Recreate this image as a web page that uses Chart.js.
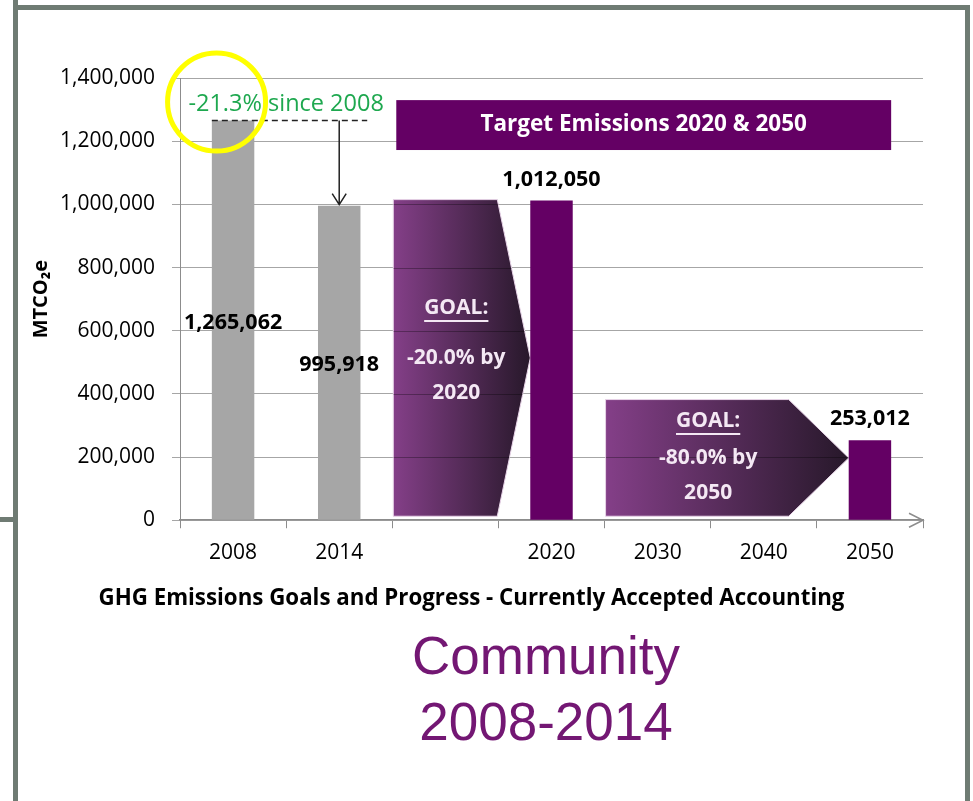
<!DOCTYPE html>
<html lang="en">
  <head>
    <meta charset="UTF-8" />
    <meta name="viewport" content="width=device-width, initial-scale=1.0" />
    <title>GHG Emissions Goals and Progress</title>
    <script src="https://cdn.jsdelivr.net/npm/chart.js"></script>
    <style>
      body { margin: 0; background: #fff; }
      .page { position: relative; width: 973px; height: 801px; overflow: hidden; }
      .frame { position: absolute; background: #6f7b73; }
      #chartBox { position: absolute; left: 0; top: 0; width: 973px; height: 620px; }
      .caption {
        position: absolute; left: 346px; top: 623px; width: 400px;
        text-align: center; font-family: "Liberation Sans", Arial, sans-serif;
        font-size: 53px; line-height: 66px; color: #731773;
      }
    </style>
  </head>
  <body>
    <div class="page">
      <div class="frame" style="left:13px;top:0;width:5px;height:801px"></div>
      <div class="frame" style="left:13px;top:5px;width:957px;height:5px"></div>
      <div class="frame" style="left:965px;top:5px;width:5px;height:796px"></div>
      <div class="frame" style="left:0;top:517px;width:15px;height:5px"></div>
      <div id="chartBox"><canvas id="myChart"></canvas></div>
      <div class="caption">Community<br />2008-2014</div>
    </div>

    <script>
      // emissions data (MTCO2e)
      const years = ["2008", "2014", "", "2020", "2030", "2040", "2050"];
      const emissions = [1265062, 995918, null, 1012050, null, null, 253012];
      const barColors = ["#a6a6a6", "#a6a6a6", null, "#640064", null, null, "#640064"];
      const yTicks = [0, 200000, 400000, 600000, 800000, 1000000, 1200000, 1400000];

      // goal arrows: start category, target bar, arrow top value
      const goalStart = [2, 4];
      const goalTarget = [3, 6];
      const goalTop = [1015000, 382000];

      const fmt = (v) => v.toLocaleString("en-US");
      const pct = (v) => ((v / emissions[0] - 1) * 100).toFixed(1) + "%";

      Chart.defaults.font.family = "'Open Sans', sans-serif";
      Chart.defaults.color = "#000";

      const annotations = {
        id: "annotations",
        beforeDatasetsDraw(chart) {
          const { ctx, scales: { x, y } } = chart;
          const step = x.getPixelForValue(1) - x.getPixelForValue(0);
          const barHalf = (step * 0.4) / 2;

          // target banner
          const bx1 = x.getPixelForValue(2) - step / 2 + 4;
          const bx2 = x.getPixelForValue(6) + barHalf;
          const by1 = y.getPixelForValue(1330000);
          const by2 = y.getPixelForValue(1172000);
          ctx.save();
          ctx.fillStyle = "#640064";
          ctx.fillRect(bx1, by1, bx2 - bx1, by2 - by1);
          ctx.fillStyle = "#fff";
          ctx.font = "bold 22.5px 'Open Sans'";
          ctx.textAlign = "center";
          ctx.textBaseline = "middle";
          ctx.fillText("Target Emissions 2020 & 2050", (bx1 + bx2) / 2, (by1 + by2) / 2);
          ctx.restore();

          // goal arrows
          const points = [33, 60];
          const gaps = [50, 37];
          goalStart.forEach((s, i) => {
            const t = goalTarget[i];
            const left = x.getPixelForValue(s) - step / 2 + 1;
            const tip = x.getPixelForValue(t) - barHalf;
            const body = tip - points[i];
            const top = y.getPixelForValue(goalTop[i]);
            const bottom = y.getPixelForValue(0) - 4;
            const mid = (top + bottom) / 2;

            ctx.save();
            ctx.beginPath();
            ctx.moveTo(left, top);
            ctx.lineTo(body, top);
            ctx.lineTo(tip, mid);
            ctx.lineTo(body, bottom);
            ctx.lineTo(left, bottom);
            ctx.closePath();
            const grad = ctx.createLinearGradient(left, 0, tip, 0);
            grad.addColorStop(0, "#843f88");
            grad.addColorStop(1, "#27182a");
            ctx.fillStyle = grad;
            ctx.fill();
            ctx.strokeStyle = "#e8d4e8";
            ctx.lineWidth = 1;
            ctx.stroke();
            ctx.clip();
            ctx.strokeStyle = "rgba(0,0,0,0.3)";
            yTicks.forEach((v) => {
              const py = Math.round(y.getPixelForValue(v)) + 0.5;
              ctx.beginPath();
              ctx.moveTo(left, py);
              ctx.lineTo(tip, py);
              ctx.stroke();
            });
            ctx.restore();

            // goal text
            const cx = (left + body) / 2 + 11;
            ctx.save();
            ctx.fillStyle = "#f4e8f4";
            ctx.strokeStyle = "#f4e8f4";
            ctx.font = "bold 21px 'Open Sans'";
            ctx.textAlign = "center";
            ctx.textBaseline = "middle";
            const gy = mid - gaps[i];
            ctx.fillText("GOAL:", cx, gy);
            const w = ctx.measureText("GOAL:").width;
            ctx.lineWidth = 2;
            ctx.beginPath();
            ctx.moveTo(cx - w / 2, gy + 13);
            ctx.lineTo(cx + w / 2, gy + 13);
            ctx.stroke();
            ctx.fillText(pct(emissions[t]) + " by", cx, mid);
            ctx.fillText(years[t], cx, mid + 35);
            ctx.restore();
          });
        },
        afterDatasetsDraw(chart) {
          const { ctx, chartArea: area, scales: { x, y } } = chart;
          const step = x.getPixelForValue(1) - x.getPixelForValue(0);
          const barHalf = (step * 0.4) / 2;

          // value labels
          ctx.save();
          ctx.font = "bold 21.5px 'Open Sans'";
          ctx.textAlign = "center";
          ctx.textBaseline = "middle";
          ctx.fillStyle = "#000";
          emissions.forEach((v, i) => {
            if (v == null) return;
            const px = x.getPixelForValue(i);
            const py = barColors[i] === "#a6a6a6" ? y.getPixelForValue(v / 2) + 2 : y.getPixelForValue(v) - 21;
            ctx.fillText(fmt(v), px, py);
          });
          ctx.restore();

          // change since 2008: dashed reference + arrow
          const y0 = y.getPixelForValue(emissions[0]);
          const y1 = y.getPixelForValue(emissions[1]);
          const x1 = x.getPixelForValue(1);
          ctx.save();
          ctx.strokeStyle = "#222";
          ctx.lineWidth = 1.5;
          ctx.setLineDash([6, 4]);
          ctx.beginPath();
          ctx.moveTo(x.getPixelForValue(0) - barHalf, y0);
          ctx.lineTo(x1 + 28, y0);
          ctx.stroke();
          ctx.setLineDash([]);
          ctx.beginPath();
          ctx.moveTo(x1, y0);
          ctx.lineTo(x1, y1 - 1);
          ctx.moveTo(x1 - 7, y1 - 12);
          ctx.lineTo(x1, y1 - 1);
          ctx.lineTo(x1 + 7, y1 - 12);
          ctx.stroke();

          ctx.fillStyle = "#1ea84f";
          ctx.font = "23.5px 'Open Sans'";
          ctx.textAlign = "center";
          ctx.textBaseline = "middle";
          ctx.fillText(pct(emissions[1]) + " since " + years[0], x.getPixelForValue(0.5), y.getPixelForValue(1318000));

          // highlight ring
          ctx.strokeStyle = "#ffff00";
          ctx.lineWidth = 5;
          ctx.beginPath();
          ctx.arc(x.getPixelForValue(0) - 16.5, y.getPixelForValue(1324000), 49, 0, Math.PI * 2);
          ctx.stroke();

          // x axis arrow head
          const ay = y.getPixelForValue(0);
          ctx.strokeStyle = "#8c8c8c";
          ctx.lineWidth = 1.5;
          ctx.beginPath();
          ctx.moveTo(area.right - 14, ay - 7);
          ctx.lineTo(area.right, ay);
          ctx.lineTo(area.right - 14, ay + 7);
          ctx.stroke();
          ctx.restore();
        },
      };

      const tickFont = { family: "'Open Sans'", size: 21 };

      new Chart(document.getElementById("myChart"), {
        type: "bar",
        data: {
          labels: years,
          datasets: [
            {
              data: emissions,
              backgroundColor: barColors,
              barPercentage: 0.4,
              categoryPercentage: 1,
            },
          ],
        },
        options: {
          responsive: true,
          maintainAspectRatio: false,
          animation: false,
          layout: { padding: { top: 78, right: 50, bottom: 4, left: 20 } },
          plugins: {
            legend: { display: false },
            tooltip: { enabled: false },
            title: {
              display: true,
              position: "bottom",
              text: "GHG Emissions Goals and Progress - Currently Accepted Accounting",
              color: "#000",
              font: { family: "'Open Sans'", size: 22.3, weight: "bold" },
              padding: { top: 5, bottom: 4 },
            },
          },
          scales: {
            x: {
              offset: true,
              grid: { offset: true, drawOnChartArea: false, tickLength: 8, color: "#8c8c8c" },
              border: { color: "#8c8c8c", width: 1.5 },
              ticks: { font: tickFont, color: "#000", padding: 12, maxRotation: 0 },
              afterFit: (s) => { s.height = 60; },
            },
            y: {
              min: 0,
              max: 1400000,
              afterBuildTicks: (s) => { s.ticks = yTicks.map((v) => ({ value: v })); },
              ticks: { font: tickFont, color: "#000", padding: 17, callback: (v) => fmt(v) },
              grid: { color: "#a6a6a6", tickLength: 8 },
              border: { color: "#8c8c8c" },
              title: {
                display: true,
                text: "MTCO₂e",
                color: "#000",
                font: { family: "'Open Sans'", size: 20, weight: "bold" },
                padding: { top: 9, bottom: 0 },
              },
              afterFit: (s) => { s.width = 160; },
            },
          },
        },
        plugins: [annotations],
      });
    </script>
  </body>
</html>
